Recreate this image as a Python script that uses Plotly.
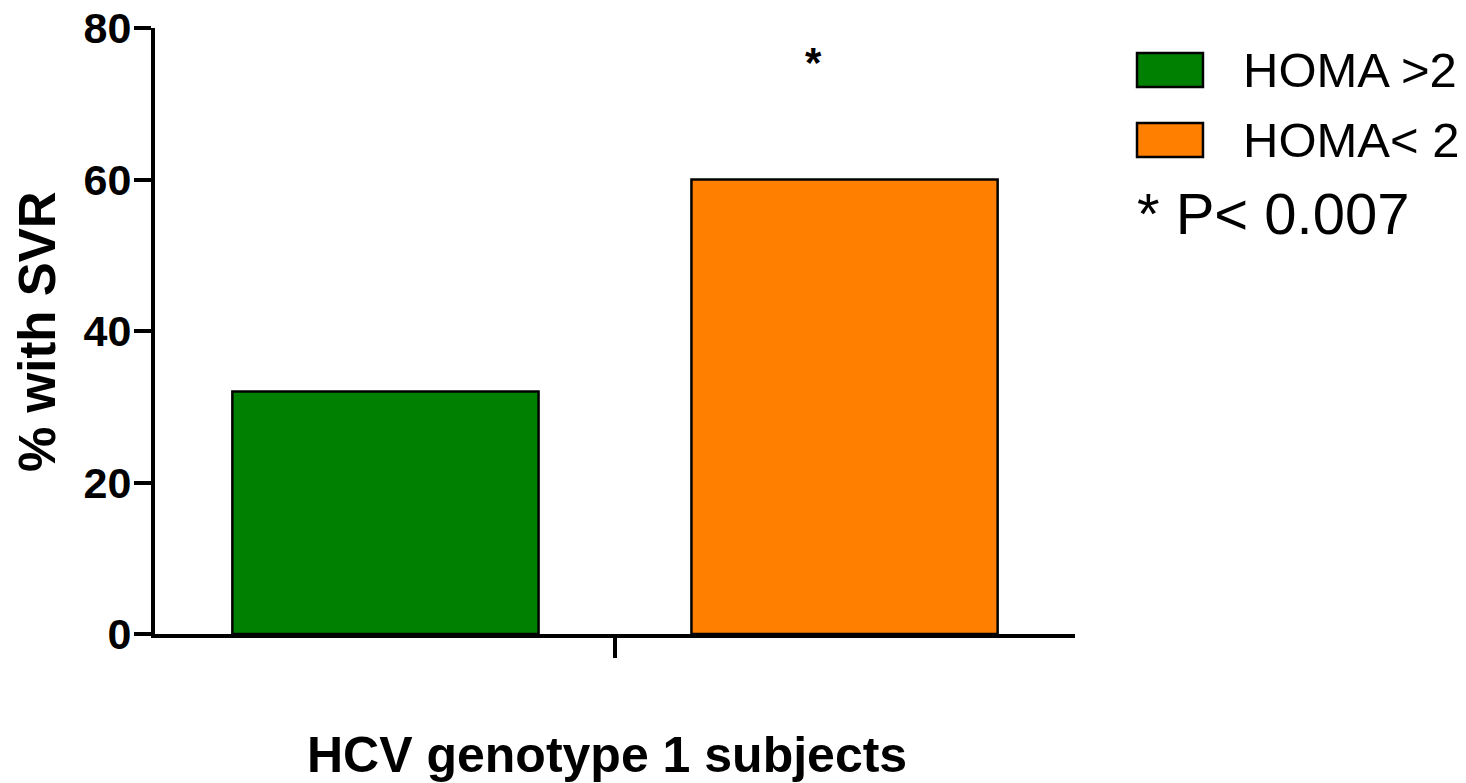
import plotly.graph_objects as go

# Sustained virological response by insulin-resistance group
category = ["HCV genotype 1 subjects"]
groups = ["HOMA >2", "HOMA< 2"]
svr_pct = [32, 60]
colors = ["#008000", "#FF8000"]
y_ticks = [0, 20, 40, 60, 80]
p_text = "* P< 0.007"

FONT = "Liberation Sans, Arial, sans-serif"

fig = go.Figure()
for name, val, col in zip(groups, svr_pct, colors):
    fig.add_trace(go.Bar(
        x=category, y=[val], name=name,
        marker=dict(color=col, line=dict(color="black", width=2.5)),
        showlegend=False,
    ))

fig.update_layout(
    width=1466, height=783,
    margin=dict(l=155, r=391, t=28, b=149),
    paper_bgcolor="white", plot_bgcolor="white",
    barmode="group", bargap=0.002, bargroupgap=0.333,
    font=dict(family=FONT, color="black"),
)

fig.update_xaxes(
    showline=True, linewidth=4, linecolor="black",
    ticks="outside", ticklen=20, tickwidth=4, tickcolor="black",
    showticklabels=False, showgrid=False, zeroline=False,
    automargin=False,
)
fig.update_yaxes(
    range=[0, 80], tickvals=y_ticks,
    showline=True, linewidth=4, linecolor="black",
    ticks="outside", ticklen=17, tickwidth=4, tickcolor="black",
    tickfont=dict(family=FONT, size=43, weight="bold"),
    ticklabelstandoff=-6,
    showgrid=False, zeroline=False, automargin=False,
)

# Axis titles
fig.add_annotation(xref="paper", yref="paper", x=0.4913, y=-0.1997,
                   text="<b>HCV genotype 1 subjects</b>", showarrow=False,
                   xanchor="center", yanchor="middle",
                   font=dict(family=FONT, size=50))
fig.add_annotation(xref="paper", yref="paper", x=-0.1283, y=0.5,
                   text="<b>% with SVR</b>", showarrow=False, textangle=-90,
                   xanchor="center", yanchor="middle",
                   font=dict(family=FONT, size=51))

# Custom legend: outlined colour boxes with labels to the right of the plot
box_y = [(0.9026, 0.9587), (0.7871, 0.8432)]
for (y0, y1), name, col in zip(box_y, groups, colors):
    fig.add_shape(type="rect", xref="paper", yref="paper",
                  x0=1.0674, x1=1.1391, y0=y0, y1=y1,
                  fillcolor=col, line=dict(color="black", width=2.5))
    fig.add_annotation(xref="paper", yref="paper", x=1.1804, y=(y0 + y1) / 2,
                       text=name, showarrow=False, xanchor="left", yanchor="middle",
                       font=dict(family=FONT, size=49))

fig.add_annotation(xref="paper", yref="paper", x=1.0652, y=0.6947,
                   text=p_text, showarrow=False, xanchor="left", yanchor="middle",
                   font=dict(family=FONT, size=58))

# Significance marker above the HOMA< 2 bar
fig.add_annotation(xref="paper", yref="y", x=0.727, y=75.5,
                   text="<b>*</b>", showarrow=False,
                   font=dict(family=FONT, size=42))

fig.write_html("out.html")
